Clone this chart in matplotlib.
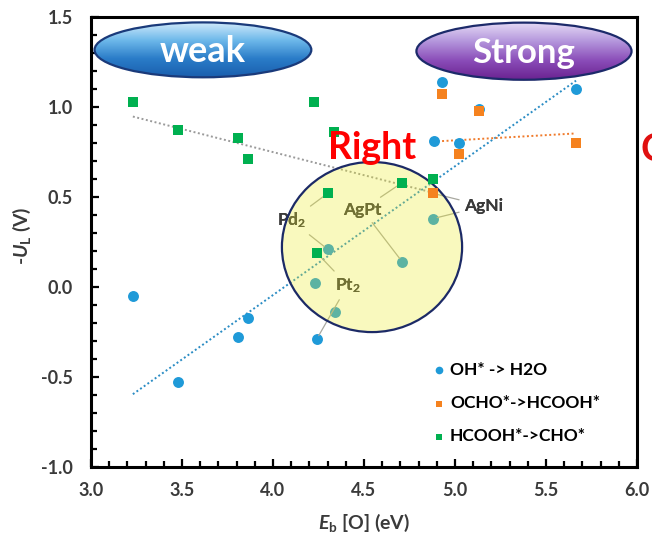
import numpy as np
import matplotlib
matplotlib.use("Agg")
import matplotlib.pyplot as plt
from matplotlib.patches import Ellipse
from matplotlib.colors import LinearSegmentedColormap

# ---- data ---------------------------------------------------------------
# OH* -> H2O
oh_x = [3.23, 3.48, 3.81, 3.86, 4.24, 4.30, 4.23, 4.34, 4.71, 4.88,
        4.93, 4.885, 5.02, 5.13, 5.665]
oh_y = [-0.05, -0.53, -0.28, -0.17, -0.29, 0.21, 0.02, -0.14, 0.14, 0.38,
        1.14, 0.81, 0.80, 0.99, 1.10]
# OCHO* -> HCOOH*
ocho_x = [4.93, 5.13, 5.02, 5.665, 4.88]
ocho_y = [1.07, 0.98, 0.74, 0.80, 0.52]
# HCOOH* -> CHO*
hcooh_x = [3.23, 3.48, 3.81, 3.86, 4.225, 4.335, 4.30, 4.24, 4.71, 4.88]
hcooh_y = [1.03, 0.87, 0.83, 0.71, 1.03, 0.86, 0.52, 0.19, 0.58, 0.60]

series_labels = ["OH* -> H2O", "OCHO*->HCOOH*", "HCOOH*->CHO*"]
x_ticks = [3.0, 3.5, 4.0, 4.5, 5.0, 5.5, 6.0]
y_ticks = [-1.0, -0.5, 0.0, 0.5, 1.0, 1.5]

# catalyst labels: (text, label x, label y, points it refers to)
catalysts = [
    ("Pd$_2$", 4.10, 0.37, [("hcooh", 6), ("oh", 5)]),
    ("AgPt", 4.49, 0.43, [("hcooh", 8), ("oh", 8)]),
    ("Pt$_2$", 4.41, 0.01, [("hcooh", 7), ("oh", 4)]),
    ("AgNi", 5.16, 0.45, [("oh", 9), ("ocho", 4)]),
]

# ---- style --------------------------------------------------------------
plt.rcParams["font.family"] = ["Lato", "DejaVu Sans"]
plt.rcParams["font.weight"] = "bold"
plt.rcParams["mathtext.fontset"] = "custom"
plt.rcParams["mathtext.rm"] = "Lato:bold"
plt.rcParams["mathtext.it"] = "Lato:italic:bold"
plt.rcParams["mathtext.bf"] = "Lato:bold"

c_blue = "#1f9ad8"
c_orange = "#f5821f"
c_green = "#00b050"
c_text = "#3a3a3a"

fig = plt.figure(figsize=(6.52, 5.41), dpi=100)
ax = fig.add_axes([91 / 652, 74 / 541, 546 / 652, 450 / 541])

# ---- trend lines (least squares over each series' range) ----------------
def trend(xs, ys, color, z):
    xs = np.asarray(xs)
    ys = np.asarray(ys)
    k, b = np.polyfit(xs, ys, 1)
    xx = np.array([xs.min(), xs.max()])
    ax.plot(xx, k * xx + b, linestyle=(0, (1, 1.3)), color=color, lw=1.4, zorder=z)

trend(oh_x, oh_y, "#2a8cc4", 2)
trend(hcooh_x, hcooh_y, "#9a9a9a", 2)
trend(ocho_x, ocho_y, "#f07a2a", 2)

# ---- markers ------------------------------------------------------------
ax.scatter(oh_x, oh_y, s=62, marker="o", color=c_blue, linewidths=0,
           zorder=3, label=series_labels[0])
ax.scatter(ocho_x, ocho_y, s=48, marker="s", color=c_orange, linewidths=0,
           zorder=6, label=series_labels[1])
ax.scatter(hcooh_x, hcooh_y, s=48, marker="s", color=c_green, linewidths=0,
           zorder=6, label=series_labels[2])

# ---- catalyst annotations ------------------------------------------------
pts = {"oh": (oh_x, oh_y), "ocho": (ocho_x, ocho_y), "hcooh": (hcooh_x, hcooh_y)}
for name, lx, ly, refs in catalysts:
    for key, i in refs:
        px, py = pts[key][0][i], pts[key][1][i]
        ax.annotate(name, xy=(px, py), xytext=(lx, ly), textcoords="data",
                    ha="center", va="center", fontsize=12.5, color=c_text,
                    fontweight="bold",
                    arrowprops=dict(arrowstyle="-", color="#a8a8a0", lw=0.9,
                                    shrinkA=2, shrinkB=3),
                    zorder=3.5)

# highlighted region
circle_fill = Ellipse((4.544, 0.222), 0.99, 0.945,
                      facecolor=(238 / 255, 238 / 255, 40 / 255),
                      alpha=0.3, edgecolor="none", zorder=4)
circle_edge = Ellipse((4.544, 0.222), 0.99, 0.945, facecolor="none",
                      edgecolor="#1c2a66", lw=1.6, zorder=5)
ax.add_patch(circle_fill)
ax.add_patch(circle_edge)

ax.text(0.515, 0.709, "Right", transform=ax.transAxes, ha="center", va="center",
        fontsize=27, color="#ff0000", fontweight="bold", zorder=7)
fig.text(641 / 652, (541 - 150) / 541, "C", ha="left", va="center",
         fontsize=27, color="#e01010", fontweight="bold")

# ---- gradient badges ----------------------------------------------------
def badge(cx, cy, w, h, colors, text, fsize, edge):
    cmap = LinearSegmentedColormap.from_list("g", colors)
    grad = np.linspace(0, 1, 256).reshape(-1, 1)
    im = ax.imshow(grad, cmap=cmap, aspect="auto", origin="upper",
                   extent=[cx - w / 2, cx + w / 2, cy - h / 2, cy + h / 2],
                   transform=ax.transAxes, zorder=8)
    clip = Ellipse((cx, cy), w, h, transform=ax.transAxes, facecolor="none",
                   edgecolor="none")
    ax.add_patch(clip)
    im.set_clip_path(clip)
    ell = Ellipse((cx, cy), w, h, transform=ax.transAxes, facecolor="none",
                  edgecolor=edge, lw=1.6, zorder=9, clip_on=False)
    ax.add_patch(ell)
    ax.text(cx, cy - 0.004, text, transform=ax.transAxes, ha="center", va="center",
            fontsize=fsize, color="white", fontweight="bold", zorder=10)

badge(0.205, 0.927, 0.397, 0.122, ["#d2ebfb", "#6db8ea", "#2a7cc8", "#1a5fae"],
      "weak", 26, "#1a3a7a")
badge(0.793, 0.924, 0.394, 0.127, ["#e6dcf6", "#b496dc", "#8a4cb8", "#6a2290"],
      "Strong", 25, "#1c2a6a")

# ---- axes ---------------------------------------------------------------
ax.set_xlim(3.0, 6.0)
ax.set_ylim(-1.0, 1.5)
ax.set_xticks(x_ticks)
ax.set_yticks(y_ticks)
ax.set_xticklabels([f"{v:.1f}" for v in x_ticks], fontweight="bold")
ax.set_yticklabels([f"{v:.1f}" for v in y_ticks], fontweight="bold")
ax.set_xticks(np.arange(3.0, 6.01, 0.1), minor=True)
ax.set_yticks(np.arange(-1.0, 1.51, 0.1), minor=True)
ax.tick_params(which="both", direction="in", width=1.6, color="black",
               top=False, right=False)
ax.tick_params(which="major", length=6, labelsize=13, labelcolor=c_text)
ax.tick_params(which="minor", length=4)
ax.tick_params(axis="x", pad=11)
ax.tick_params(axis="y", pad=13)
for sp in ax.spines.values():
    sp.set_linewidth(2.2)
    sp.set_color("black")

ax.set_xlabel(r"$\mathit{E}_\mathrm{b}$ [O] (eV)", fontsize=14, color=c_text,
              fontweight="bold", va="center", ha="center")
ax.xaxis.set_label_coords(0.5, -0.124)
ax.set_ylabel(r"-$\mathit{U}_\mathrm{L}$ (V)", fontsize=14, color=c_text,
              fontweight="bold", va="center", ha="center")
ax.yaxis.set_label_coords(-0.126, 0.513)

leg = ax.legend(loc="center left", bbox_to_anchor=(0.629, 0.142), frameon=False,
                fontsize=12.5, handlelength=0.55, handletextpad=0.35,
                labelspacing=1.0, borderpad=0, borderaxespad=0,
                markerscale=0.7)
for t in leg.get_texts():
    t.set_color("black")
    t.set_fontweight("bold")

fig.savefig("out.png", dpi=100)
